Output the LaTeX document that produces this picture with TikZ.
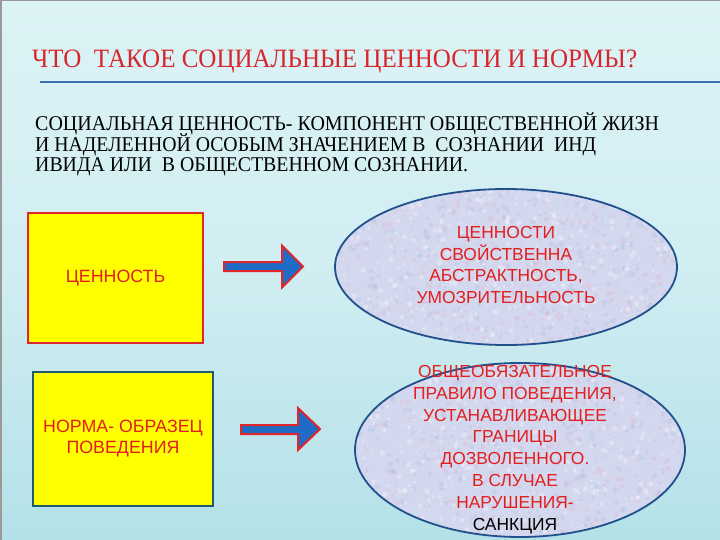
\documentclass[tikz,border=0pt]{standalone}
\usepackage{fontspec}
\setmainfont{Liberation Serif}
\newfontfamily\arialf{Liberation Sans}
\usepackage{graphicx}
\definecolor{bgtop}{HTML}{DDF3F6}
\definecolor{bgbot}{HTML}{B3E1E8}
\definecolor{titlered}{HTML}{D7262B}
\definecolor{rulecol}{HTML}{3A6FB3}
\definecolor{txtred}{HTML}{E31E1E}
\definecolor{boxyellow}{HTML}{FFFF00}
\definecolor{boxred}{HTML}{E0262A}
\definecolor{boxteal}{HTML}{1E5B6E}
\definecolor{arrowblue}{HTML}{1F6CC6}
\definecolor{ellfill}{HTML}{D3D8EE}
\definecolor{elledge}{HTML}{21508C}
\definecolor{speckpink}{HTML}{E2B6CE}
\definecolor{speckblue}{HTML}{AFBDE6}
\tikzset{
  boxstyle/.style={draw, line width=2.2pt, fill=boxyellow, inner sep=0pt},
  ellstyle/.style={draw=elledge, line width=1.8pt},
  arrowstyle/.style={draw=boxred, line width=2pt, fill=arrowblue, line join=miter},
  ellipsetext/.style={font=\arialf\fontsize{17.4}{21.8}\selectfont, text=txtred, align=center, inner sep=0pt},
  boxtext/.style={font=\arialf\fontsize{17.8}{21}\selectfont, text=txtred, align=center, inner sep=0pt},
}
\begin{document}
\begin{tikzpicture}[x=1pt,y=-1pt]
\useasboundingbox (0,0) rectangle (720,540);
% background
\shade[top color=bgtop, bottom color=bgbot, middle color=bgtop!70!bgbot] (0,0) rectangle (720,540);
\draw[line width=1.5pt, color=gray!80] (0.75,540) -- (0.75,0.75) -- (720,0.75);
% title
\node[anchor=base west, inner sep=0pt, text=titlered] (title) at (32,67.5)
  {\resizebox{605pt}{\height}{\fontsize{26.5}{28}\selectfont ЧТО\ \ ТАКОЕ СОЦИАЛЬНЫЕ ЦЕННОСТИ И НОРМЫ?}};
\coordinate (ruleL) at (40,82.5);
\coordinate (ruleR) at (720,82.5);
\draw[rulecol, line width=2pt] (ruleL) -- (ruleR);
% paragraph
\node[anchor=base west, inner sep=0pt] (p1) at (35,131)
  {\resizebox{624pt}{\height}{\fontsize{21}{22}\selectfont СОЦИАЛЬНАЯ ЦЕННОСТЬ- КОМПОНЕНТ ОБЩЕСТВЕННОЙ ЖИЗН}};
\node[anchor=base west, inner sep=0pt] (p2) at (35,152)
  {\resizebox{561pt}{\height}{\fontsize{21}{22}\selectfont И НАДЕЛЕННОЙ ОСОБЫМ ЗНАЧЕНИЕМ В\ \ СОЗНАНИИ\ \ ИНД}};
\node[anchor=base west, inner sep=0pt] (p3) at (35,172)
  {\resizebox{433pt}{\height}{\fontsize{21}{22}\selectfont ИВИДА ИЛИ\ \ В ОБЩЕСТВЕННОМ СОЗНАНИИ.}};
% boxes
\node[boxstyle, draw=boxred, minimum width=175pt, minimum height=130pt] (valbox) at (115.5,278) {};
\node[boxtext] (valtext) at (valbox.center) {ЦЕННОСТЬ};
\node[boxstyle, draw=boxteal, line width=2pt, minimum width=180pt, minimum height=134pt] (normbox) at (123,439) {};
\node[boxtext] (normtext) at (normbox.center) {НОРМА- ОБРАЗЕЦ\\ПОВЕДЕНИЯ};
% ellipses with speckled texture
\foreach \cx/\cy/\rx/\ry in {506/267/171/78, 520/450/165/87}{
  \fill[ellfill] (\cx,\cy) ellipse[x radius=\rx, y radius=\ry];
  \begin{scope}
    \clip (\cx,\cy) ellipse[x radius=\rx, y radius=\ry];
    \pgfmathsetseed{7}
    \foreach \i in {1,...,400}{
      \pgfmathsetmacro{\px}{\cx+rand*\rx}
      \pgfmathsetmacro{\py}{\cy+rand*\ry}
      \pgfmathsetmacro{\pr}{1+1.8*rnd}
      \fill[speckpink, opacity=0.3] (\px,\py) circle[radius=\pr];
    }
    \foreach \i in {1,...,400}{
      \pgfmathsetmacro{\px}{\cx+rand*\rx}
      \pgfmathsetmacro{\py}{\cy+rand*\ry}
      \pgfmathsetmacro{\pr}{1+1.8*rnd}
      \fill[speckblue, opacity=0.3] (\px,\py) circle[radius=\pr];
    }
    \foreach \i in {1,...,400}{
      \pgfmathsetmacro{\px}{\cx+rand*\rx}
      \pgfmathsetmacro{\py}{\cy+rand*\ry}
      \pgfmathsetmacro{\pr}{1+1.8*rnd}
      \fill[white, opacity=0.3] (\px,\py) circle[radius=\pr];
    }
  \end{scope}
}
\draw[ellstyle] (506,267) ellipse[x radius=171, y radius=78];
\draw[ellstyle] (520,450) ellipse[x radius=165, y radius=87];
\coordinate (e1c) at (506,265);
\coordinate (e2c) at (515,449.5);
\node[ellipsetext] (e1text) at (e1c)
  {ЦЕННОСТИ\\СВОЙСТВЕННА\\АБСТРАКТНОСТЬ,\\УМОЗРИТЕЛЬНОСТЬ};
\node[ellipsetext] (e2text) at (e2c)
  {ОБЩЕОБЯЗАТЕЛЬНОЕ\\ПРАВИЛО ПОВЕДЕНИЯ,\\УСТАНАВЛИВАЮЩЕЕ\\ГРАНИЦЫ\\ДОЗВОЛЕННОГО.\\В СЛУЧАЕ\\НАРУШЕНИЯ-\\\textcolor{black}{САНКЦИЯ}};
% arrows
\draw[arrowstyle] (224,262) -- (282,262) -- (282,245.5) -- (303,266.5) -- (282,287.5) -- (282,271) -- (224,271) -- cycle;
\draw[arrowstyle] (241,425) -- (298,425) -- (298,408) -- (320,429) -- (298,450) -- (298,434) -- (241,434) -- cycle;
\end{tikzpicture}
\end{document}
